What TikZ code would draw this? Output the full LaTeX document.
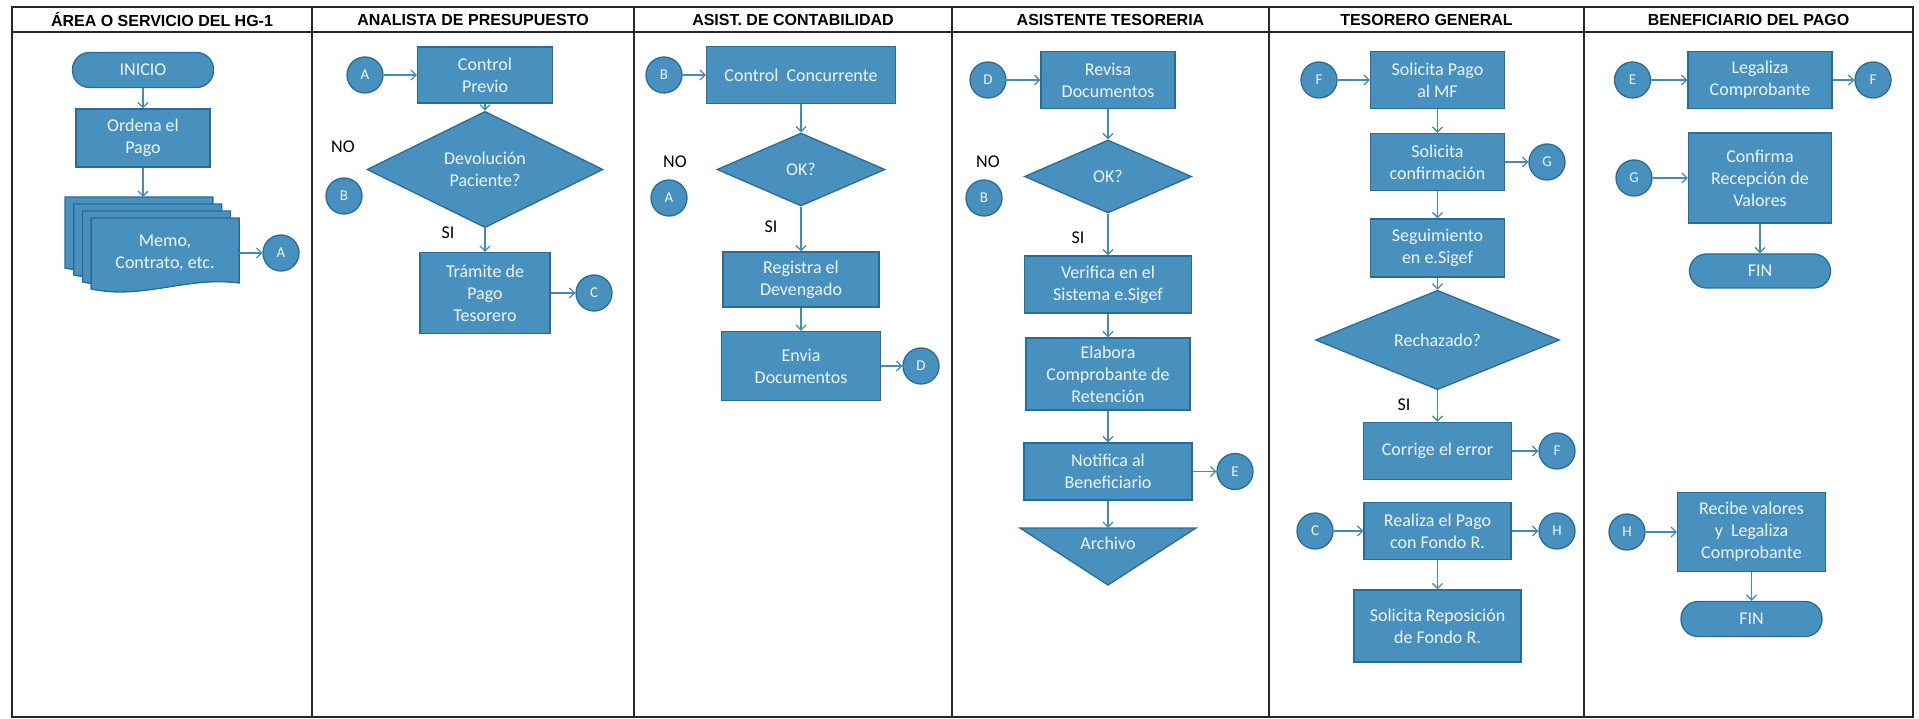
\documentclass[tikz,border=0pt]{standalone}
\usepackage{fontspec}
\setmainfont{Carlito}
\newfontfamily\headfont{Liberation Sans}
\usetikzlibrary{shapes.geometric,arrows.meta}
\definecolor{boxfill}{RGB}{72,145,191}
\definecolor{boxline}{RGB}{42,108,153}
\definecolor{boxtext}{RGB}{236,244,249}
\definecolor{flowc}{RGB}{70,138,186}

\begin{document}
\begin{tikzpicture}[x=1pt,y=-1pt,
    txt/.style={text=boxtext, align=center, inner sep=0pt, font=\fontsize{18}{22}\selectfont},
    fillc/.style={draw=boxline, fill=boxfill, line width=1.3pt},
    box/.style={rectangle, fillc, txt},
    term/.style={box, rounded corners=17pt},
    dec/.style={diamond, fillc, txt},
    conn/.style={circle, fillc, txt, minimum size=36pt, font=\fontsize{15}{18}\selectfont},
    sz/.style 2 args={minimum width=#1pt, minimum height=#2pt},
    lbl/.style={inner sep=0pt, font=\fontsize{18}{21}\selectfont},
    lanehead/.style={inner sep=0pt, font=\headfont\bfseries\fontsize{16}{19}\selectfont},
    lane/.style={draw=black!85, line width=1.8pt},
    flow/.style={draw=flowc, line width=1.3pt, -{Straight Barb[length=5pt,width=10pt]}}
  ]
  \useasboundingbox (0,0) rectangle (1919,719);

  % tabla de carriles
  \draw[lane] (12,7) rectangle (1913,717);
  \draw[lane] (12,32) -- (1913,32);
  \foreach \x in {312,634,952,1269,1584}
    \draw[lane] (\x,7) -- (\x,717);
  \foreach \cx/\txt [count=\i] in {162/{ÁREA O SERVICIO DEL HG-1}, 473/{ANALISTA DE PRESUPUESTO},
      793/{ASIST. DE CONTABILIDAD}, 1110.5/{ASISTENTE TESORERIA},
      1426.5/{TESORERO GENERAL}, 1748.5/{BENEFICIARIO DEL PAGO}}
    \node[lanehead] (h\i) at (\cx,19.5) {\txt};

  % area o servicio
  \node[term, sz={141}{35}] (inicio) at (143,70) {INICIO};
  \node[box, sz={134}{58}] (ordena) at (143,138) {Ordena el\\Pago};
  \foreach \i in {0,...,3}{
    \pgfmathsetmacro\mx{65+8.7*\i}
    \pgfmathsetmacro\my{197+7*\i}
    \draw[fillc] (\mx,\my) -- (\mx+148,\my) -- (\mx+148,\my+65)
      .. controls (\mx+96,\my+58) and (\mx+52,\my+82) .. (\mx,\my+71) -- cycle;
  }
  \coordinate (memotop) at (143,197);
  \node[txt, sz={148}{70}] (memo) at (165,253) {Memo,\\Contrato, etc.};
  \node[conn] (cA1) at (281,253) {A};

  % analista de presupuesto
  \node[conn] (cA2) at (365,75) {A};
  \node[box, sz={135}{56}] (previo) at (485,75) {Control\\Previo};
  \node[dec, sz={236}{73}] (devol) at (485,169.5) {Devolución\\Paciente?};
  \node[lbl] (no2) at (343,147) {NO};
  \node[conn] (cB2) at (344,196) {B};
  \node[lbl] (si2) at (448,233) {SI};
  \node[box, sz={130}{81}] (tramite) at (485,293) {Trámite de\\Pago\\Tesorero};
  \node[conn] (cC2) at (594,293) {C};

  % asist. de contabilidad
  \node[conn] (cB3) at (664,75) {B};
  \node[box, sz={189}{57}] (concur) at (801,75) {Control~~Concurrente};
  \node[dec, sz={168}{73}] (ok3) at (801,169.5) {OK?};
  \node[lbl] (no3) at (675,162) {NO};
  \node[conn] (cA3) at (669,198) {A};
  \node[lbl] (si3) at (771,227) {SI};
  \node[box, sz={156}{55}] (registra) at (801,279.5) {Registra el\\Devengado};
  \node[box, sz={159}{69}] (envia) at (801,366) {Envia\\Documentos};
  \node[conn] (cD3) at (921,366) {D};

  % asistente tesoreria
  \node[conn] (cD4) at (988,80) {D};
  \node[box, sz={134}{57}] (revisa) at (1108,80) {Revisa\\Documentos};
  \node[dec, sz={167}{73}] (ok4) at (1108,176.5) {OK?};
  \node[lbl] (no4) at (988,162) {NO};
  \node[conn] (cB4) at (984,198) {B};
  \node[lbl] (si4) at (1078,238) {SI};
  \node[box, sz={167}{57}] (verifica) at (1108,284.5) {Verifica en el\\Sistema e.Sigef};
  \node[box, sz={164}{72}] (elabora) at (1108,374) {Elabora\\Comprobante de\\Retención};
  \node[box, sz={168}{57}] (notifica) at (1108,471.5) {Notifica al\\Beneficiario};
  \node[conn] (cE4) at (1235,471.5) {E};
  \draw[fillc] (1020,528) -- (1196,528) -- (1108,585) -- cycle;
  \coordinate (archtop) at (1108,528);
  \node[txt] (archivo) at (1108,543) {Archivo};

  % tesorero general
  \node[conn] (cF5) at (1319,80) {F};
  \node[box, sz={134}{57}] (solpago) at (1437.5,80) {Solicita Pago\\al MF};
  \node[box, sz={134}{57}] (solconf) at (1437.5,162) {Solicita\\confirmación};
  \node[conn] (cG5) at (1547,162) {G};
  \node[box, sz={134}{58}] (seguim) at (1437.5,248) {Seguimiento\\en e.Sigef};
  \node[dec, sz={244}{70}] (rechaz) at (1437.5,340) {Rechazado?};
  \node[lbl] (si5) at (1404,405) {SI};
  \node[box, sz={148}{57}] (corrige) at (1437.5,451) {Corrige el error};
  \node[conn] (cF5b) at (1557,451) {F};
  \node[conn] (cC5) at (1315,531) {C};
  \node[box, sz={147}{57}] (realiza) at (1437.5,531) {Realiza el Pago\\con Fondo R.};
  \node[conn] (cH5) at (1557,531) {H};
  \node[box, sz={167}{72}] (solrepo) at (1437.5,626) {Solicita Reposición\\de Fondo R.};

  % beneficiario del pago
  \node[conn] (cE6) at (1632.5,80) {E};
  \node[box, sz={144}{57}] (legaliza) at (1760,80) {Legaliza\\Comprobante};
  \node[conn] (cF6) at (1873,80) {F};
  \node[conn] (cG6) at (1634,178) {G};
  \node[box, sz={143}{90}] (confirma) at (1760,178) {Confirma\\Recepción de\\Valores};
  \node[term, sz={141}{34}] (fin1) at (1760,271) {FIN};
  \node[conn] (cH6) at (1627,532) {H};
  \node[box, sz={148}{79}] (recibe) at (1751.5,532) {Recibe valores\\y~~Legaliza\\Comprobante};
  \node[term, sz={141}{35}] (fin2) at (1751.5,619) {FIN};

  % flechas
  \draw[flow] (ordena) -- (memotop);
  \draw[flow] (memo.east) -- (cA1);
  \draw[flow] (notifica) -- (archtop);
  \foreach \a/\b in {inicio/ordena, cA2/previo, previo/devol, devol/tramite, tramite/cC2,
      cB3/concur, concur/ok3, ok3/registra, registra/envia, envia/cD3,
      cD4/revisa, revisa/ok4, ok4/verifica, verifica/elabora, elabora/notifica, notifica/cE4,
      cF5/solpago, solpago/solconf, solconf/cG5, solconf/seguim, seguim/rechaz, rechaz/corrige,
      corrige/cF5b, cC5/realiza, realiza/cH5, realiza/solrepo,
      cE6/legaliza, legaliza/cF6, cG6/confirma, confirma/fin1, cH6/recibe, recibe/fin2}
    \draw[flow] (\a) -- (\b);
\end{tikzpicture}
\end{document}
